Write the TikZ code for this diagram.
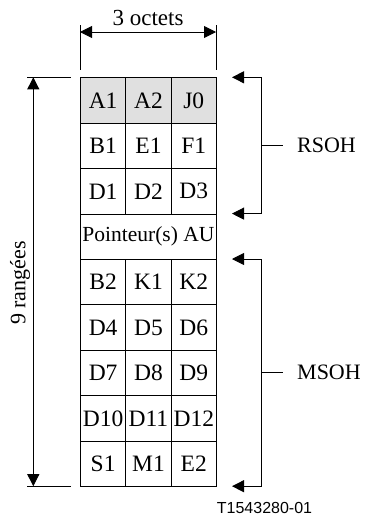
\documentclass[tikz,border=0pt]{standalone}
\usepackage{fontspec}
\setmainfont{Liberation Serif}
\newfontfamily\capfont{Liberation Sans}
\usetikzlibrary{arrows.meta}
\begin{document}
\begin{tikzpicture}[x=1pt,y=-1pt,
  cell/.style={draw=black,line width=0.9pt,minimum width=45.33pt,minimum height=45.43pt,inner sep=0pt,anchor=north west,font=\fontsize{23.5}{24}\selectfont},
  widecell/.style={cell,minimum width=136pt,font=\fontsize{21.5}{22}\selectfont},
  graycell/.style={cell,fill=black!12},
  lbl/.style={inner sep=0pt,font=\fontsize{22}{22}\selectfont},
  ln/.style={line width=0.9pt,draw=black},
  arr/.style={ln,-{Triangle[length=12pt,width=12pt]}},
  darr/.style={ln,{Triangle[length=12pt,width=12pt]}-{Triangle[length=12pt,width=12pt]}}
]
\useasboundingbox (0,0) rectangle (366,517);
\node[graycell] (a1) at (80,77.3) {A1};
\node[graycell] (a2) at (125.33,77.3) {A2};
\node[graycell] (j0) at (170.67,77.3) {J0};
\node[cell] (b1) at (80,122.73) {B1};
\node[cell] (e1) at (125.33,122.73) {E1};
\node[cell] (f1) at (170.67,122.73) {F1};
\node[cell] (d1) at (80,168.16) {D1};
\node[cell] (d2) at (125.33,168.16) {D2};
\node[cell] (d3) at (170.67,168.16) {D3};
\node[widecell] (pau) at (80,213.59) {Pointeur(s) AU};
\node[cell] (b2) at (80,259.02) {B2};
\node[cell] (k1) at (125.33,259.02) {K1};
\node[cell] (k2) at (170.67,259.02) {K2};
\node[cell] (d4) at (80,304.45) {D4};
\node[cell] (d5) at (125.33,304.45) {D5};
\node[cell] (d6) at (170.67,304.45) {D6};
\node[cell] (d7) at (80,349.88) {D7};
\node[cell] (d8) at (125.33,349.88) {D8};
\node[cell] (d9) at (170.67,349.88) {D9};
\node[cell] (d10) at (80,395.31) {D10};
\node[cell] (d11) at (125.33,395.31) {D11};
\node[cell] (d12) at (170.67,395.31) {D12};
\node[cell] (s1) at (80,440.74) {S1};
\node[cell] (m1) at (125.33,440.74) {M1};
\node[cell] (e2) at (170.67,440.74) {E2};
% top dimension
\coordinate (tl0) at (80,25);
\coordinate (tl1) at (80,70);
\coordinate (tr0) at (216,25);
\coordinate (tr1) at (216,70);
\coordinate (ta) at (80,32);
\coordinate (tb) at (216,32);
\draw[ln] (tl0) -- (tl1);
\draw[ln] (tr0) -- (tr1);
\draw[darr] (ta) -- (tb);
\node[lbl,font=\fontsize{23}{23}\selectfont] (oct) at (148,18) {3 octets};
% left dimension
\coordinate (lt0) at (27,77.3);
\coordinate (lt1) at (71,77.3);
\coordinate (lb0) at (27,486.2);
\coordinate (lb1) at (71,486.2);
\coordinate (la) at (33.3,77.3);
\coordinate (lb) at (33.3,486.2);
\draw[ln] (lt0) -- (lt1);
\draw[ln] (lb0) -- (lb1);
\draw[darr] (la) -- (lb);
\node[lbl,rotate=90] (rg) at (20,283) {9 rangées};
% RSOH bracket
\coordinate (r0) at (232,77.3);
\coordinate (r1) at (261,77.3);
\coordinate (r2) at (261,213.6);
\coordinate (r3) at (232,213.6);
\coordinate (rm) at (261,145.4);
\coordinate (rt) at (283,145.4);
\draw[darr] (r0) -- (r1) -- (r2) -- (r3);
\draw[ln] (rm) -- (rt);
\node[lbl,anchor=west] (rsoh) at (297,145.4) {RSOH};
% MSOH bracket
\coordinate (m0) at (232,259.0);
\coordinate (mm1) at (261,259.0);
\coordinate (mm2) at (261,486.2);
\coordinate (m3) at (232,486.2);
\coordinate (mm) at (261,372.6);
\coordinate (mt) at (283,372.6);
\draw[darr] (m0) -- (mm1) -- (mm2) -- (m3);
\draw[ln] (mm) -- (mt);
\node[lbl,anchor=west] (msoh) at (297,372.6) {MSOH};
% caption
\node[inner sep=0pt,font=\capfont\fontsize{16}{16}\selectfont] (cap) at (264.5,508) {T1543280-01};
\end{tikzpicture}
\end{document}
